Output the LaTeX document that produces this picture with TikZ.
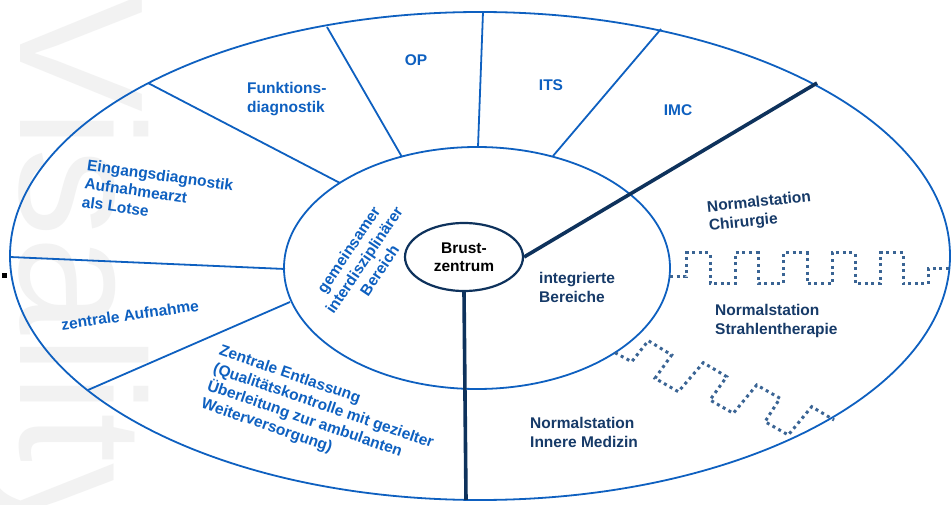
\documentclass[tikz,border=0pt]{standalone}
\usepackage{fontspec}
\setmainfont{Liberation Sans}
\usetikzlibrary{shapes.geometric}
\definecolor{lblue}{RGB}{14,96,192}
\definecolor{navy}{RGB}{14,50,92}
\definecolor{navytext}{RGB}{22,58,104}
\definecolor{wavec}{RGB}{58,100,148}
\definecolor{wmgray}{RGB}{242,242,242}
\begin{document}
\begin{tikzpicture}[x=1pt,y=-1pt,
  lbl/.style={font=\bfseries\fontsize{15.5}{18.6}\selectfont, text=lblue, inner sep=0pt, align=left},
  dlbl/.style={lbl, text=navytext},
  ring/.style={draw=lblue, line width=1.8pt, ellipse, inner sep=0pt, outer sep=0pt},
  spoke/.style={draw=lblue, line width=1.8pt},
  boldspoke/.style={draw=navy, line width=3.6pt},
  wave/.style={draw=wavec, line width=3pt, dash pattern=on 3pt off 3.6pt}
]
\useasboundingbox (0,0) rectangle (951,505);
\fill[white] (0,0) rectangle (951,505);
% watermark
\node[rotate=-90, anchor=base west, inner sep=0pt, text=wmgray,
      font=\fontsize{177}{177}\selectfont] (wm) at (20,-6) {Visality};
\node[fill=black, minimum size=4.5pt, inner sep=0pt] (dot) at (4.3,275.5) {};
% rings
\node[ring, minimum width=940pt, minimum height=488pt] (outer) at (480,256) {};
\node[ring, minimum width=386pt, minimum height=242pt] (inner) at (477,268) {};
% spoke end points
\coordinate (o1) at (10,257);  \coordinate (i1) at (285,269);
\coordinate (o2) at (88,390);  \coordinate (i2) at (290,302);
\coordinate (o3) at (148,83);  \coordinate (i3) at (340,183);
\coordinate (o4) at (327,27);  \coordinate (i4) at (402,157);
\coordinate (o5) at (483,12);  \coordinate (i5) at (478,147);
\coordinate (o6) at (661,29);  \coordinate (i6) at (553,156);
\coordinate (o7) at (817,83);
\coordinate (o8) at (466,500);
\draw[spoke] (o1) -- (i1);
\draw[spoke] (o2) -- (i2);
\draw[spoke] (o3) -- (i3);
\draw[spoke] (o4) -- (i4);
\draw[spoke] (o5) -- (i5);
\draw[spoke] (o6) -- (i6);
% core
\node[ellipse, draw=navy, line width=2.2pt, fill=white, minimum width=118pt, minimum height=68pt,
      inner sep=0pt, align=center, font=\bfseries\fontsize{15.5}{18.2}\selectfont] (core) at (464,257) {Brust-\\zentrum};
\draw[boldspoke] (core.east) -- (o7);
\draw[boldspoke] (core.south) -- (o8);
% dotted waves
\coordinate (wa) at (670,277); \coordinate (wb) at (951,269);
\draw[wave] (wa) -- (686,277) -- (686,253) -- (710,253) -- (710,284) -- (735,284) -- (735,253)
  -- (758,253) -- (758,284) -- (783,284) -- (783,253) -- (807,253) -- (807,284) -- (832,284)
  -- (832,253) -- (855,253) -- (855,284) -- (880,284) -- (880,253) -- (903,253) -- (903,284)
  -- (928,284) -- (928,269) -- (wb);
\coordinate (wc) at (615,352.7); \coordinate (wd) at (834,420);
\draw[wave] (wc) -- (631.7,361.7) -- (648.3,340.7) -- (671.7,355) -- (655,378.3) -- (678.3,391.7)
  -- (703.3,362.7) -- (726.7,376.7) -- (710,400) -- (733.3,413.3) -- (756.7,385) -- (780,398.3)
  -- (765,421.7) -- (788.3,435) -- (811.7,406.7) -- (wd);
% labels
\node[lbl, anchor=north west] (funk) at (247,82) {Funktions-\\diagnostik};
\node[lbl] (op) at (416,60.5) {OP};
\node[lbl] (its) at (551,85) {ITS};
\node[lbl] (imc) at (678,110) {IMC};
\node[dlbl, rotate=6] (chir) at (760,212) {Normalstation\\Chirurgie};
\node[dlbl, anchor=north west] (strahl) at (715,304) {Normalstation\\Strahlentherapie};
\node[dlbl, anchor=north west] (innere) at (530,417) {Normalstation\\Innere Medizin};
\node[dlbl, anchor=north west] (integ) at (539,272) {integrierte\\Bereiche};
\node[lbl, align=center, rotate=56] (gem) at (364,260) {gemeinsamer\\interdisziplinärer\\Bereich};
\node[lbl, anchor=north west, rotate=-8] (eing) at (88,159) {Eingangsdiagnostik\\Aufnahmearzt\\als Lotse};
\node[lbl, rotate=8] (zauf) at (130,315) {zentrale Aufnahme};
\node[lbl, anchor=north west, rotate=-19] (entl) at (222,344) {Zentrale Entlassung\\(Qualitätskontrolle mit gezielter\\Überleitung zur ambulanten\\Weiterversorgung)};
\end{tikzpicture}
\end{document}
